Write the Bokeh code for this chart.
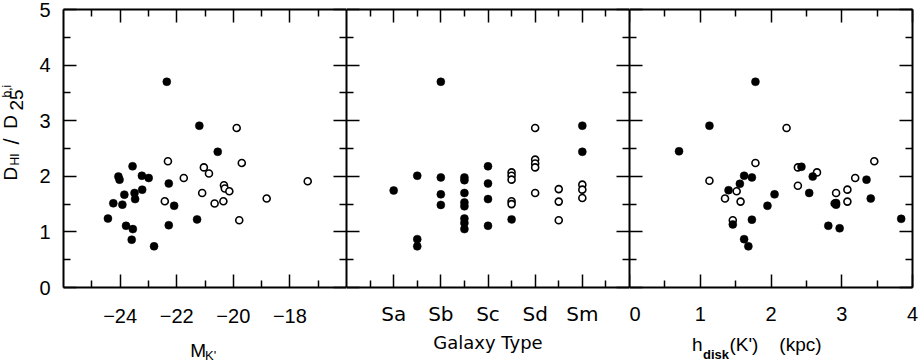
from math import pi
from bokeh.plotting import figure
from bokeh.layouts import row, column
from bokeh.models import LinearAxis, FixedTicker, Label, CustomLabelingPolicy, Spacer
from bokeh.embed import file_html
from bokeh.resources import INLINE

# ---------------- data ----------------
# Panel 1: absolute K' magnitude vs D_HI / D_25
mk_filled = [-22.35, -21.20, -20.55, -23.56, -24.06, -24.02, -23.23, -22.99, -22.28,
             -23.22, -23.49, -23.85, -23.47, -24.24, -23.92, -22.09, -21.28, -24.43,
             -23.79, -23.55, -22.28, -23.59, -22.80]
ratio_mk_filled = [3.70, 2.91, 2.44, 2.18, 1.995, 1.94, 2.01, 1.97, 1.87,
                   1.76, 1.70, 1.67, 1.59, 1.515, 1.49, 1.47, 1.225, 1.24,
                   1.11, 1.05, 1.12, 0.86, 0.74]
mk_open = [-19.88, -22.31, -19.70, -21.04, -20.86, -21.75, -17.37, -20.33,
           -20.30, -20.14, -21.10, -18.82, -22.42, -20.35, -20.66, -19.79]
ratio_mk_open = [2.87, 2.27, 2.24, 2.16, 2.05, 1.97, 1.91, 1.84,
                 1.78, 1.73, 1.70, 1.60, 1.55, 1.55, 1.51, 1.21]

# Panel 2: galaxy type (numeric T) vs D_HI / D_25
type_label_codes = [1, 3, 5, 7, 9]
type_labels = ["Sa", "Sb", "Sc", "Sd", "Sm"]
type_minor_codes = [0, 2, 4, 6, 8, 10]
type_filled = [1, 2, 2, 2, 3, 3, 3, 3, 4, 4, 4, 4, 4, 4, 4, 4, 5, 5, 5, 5, 6, 9, 9]
ratio_type_filled = [1.745, 2.01, 0.87, 0.74, 3.70, 1.98, 1.675, 1.485,
                     1.98, 1.93, 1.70, 1.53, 1.46, 1.24, 1.16, 1.05,
                     2.18, 1.87, 1.59, 1.11, 1.225, 2.91, 2.44]
type_open = [6, 6, 6, 6, 6, 7, 7, 7, 7, 7, 8, 8, 8, 9, 9, 9]
ratio_type_open = [2.07, 2.01, 1.94, 1.55, 1.50, 2.87, 2.30, 2.23, 2.16, 1.70,
                   1.77, 1.545, 1.21, 1.85, 1.76, 1.61]

# Panel 3: disk scale length (kpc) vs D_HI / D_25
hd_filled = [1.78, 1.13, 0.70, 2.43, 1.62, 1.73, 2.59, 3.35, 1.56, 1.40, 2.05, 2.54,
             2.92, 2.92, 3.41, 1.95, 1.73, 1.46, 2.81, 2.97, 3.84, 1.62, 1.68]
ratio_hd_filled = [3.70, 2.91, 2.45, 2.17, 2.01, 1.98, 1.995, 1.94, 1.865, 1.75, 1.675, 1.70,
                   1.52, 1.49, 1.60, 1.47, 1.22, 1.135, 1.11, 1.065, 1.235, 0.87, 0.74]
hd_open = [2.22, 1.78, 2.38, 2.65, 1.13, 3.19, 3.46, 1.515, 1.35, 1.57, 2.38, 2.92,
           3.08, 3.08, 2.90, 1.46]
ratio_hd_open = [2.87, 2.24, 2.16, 2.07, 1.92, 1.97, 2.27, 1.73, 1.60, 1.545, 1.83, 1.70,
                 1.76, 1.545, 1.51, 1.21]

# ticks
y_ticks = [0, 1, 2, 3, 4, 5]
y_minor = [0.5, 1.5, 2.5, 3.5, 4.5]
mk_ticks = [-24, -22, -20, -18]
mk_minor = [-25, -23, -21, -19, -17]
hd_ticks = [0, 1, 2, 3, 4]
hd_minor = [0.5, 1.5, 2.5, 3.5]

# ---------------- layout constants ----------------
FW, FH = 283, 278
TOP, BOTTOM = 9, 44          # borders of the panels (bottom holds tick labels)
YT_W = 30                    # strip that carries the y title
LEFT = 33                    # left border of panel 1 (y tick labels)
RIGHT = 7
XT_H = 361 - (TOP + FH + BOTTOM)   # strip under the panels for the x titles
NUM_FONT = "Liberation Sans"
TYPE_FONT = "DejaVu Sans"
NUM_SIZE = "20px"

NO_LABELS = CustomLabelingPolicy(code="for (const i of indices) indices.unset(i); return indices")


def bare_figure(width, height, x_range, y_range, **kw):
    p = figure(width=width, height=height, x_range=x_range, y_range=y_range,
               output_backend="svg", toolbar_location=None,
               x_axis_location=None, y_axis_location=None, **kw)
    p.grid.visible = False
    p.outline_line_color = None
    p.background_fill_color = "white"
    p.border_fill_color = "white"
    return p


def make_panel(x_range, left, right):
    return bare_figure(FW + left + right, FH + TOP + BOTTOM, x_range, (0, 5),
                       min_border_left=left, min_border_right=right,
                       min_border_top=TOP, min_border_bottom=BOTTOM)


def make_strip(width, height, x_range, y_range, top=0, bottom=0):
    return bare_figure(width, height, x_range, y_range,
                       min_border_left=0, min_border_right=0,
                       min_border_top=top, min_border_bottom=bottom)


def add_axis(p, side, ticks, minor, labels=False, font=NUM_FONT, size=NUM_SIZE,
             standoff=0, overrides=None, tick_major=13, tick_minor=7):
    ax = LinearAxis(ticker=FixedTicker(ticks=ticks, minor_ticks=minor))
    ax.axis_line_color = "black"
    ax.axis_line_width = 2
    ax.major_tick_in = tick_major
    ax.major_tick_out = 0
    ax.minor_tick_in = tick_minor
    ax.minor_tick_out = 0
    ax.major_tick_line_width = 1.5
    ax.minor_tick_line_width = 1.5
    ax.major_tick_line_color = "black"
    ax.minor_tick_line_color = "black"
    if labels:
        ax.major_label_text_font = font
        ax.major_label_text_font_size = size
        ax.major_label_text_color = "black"
        ax.major_label_standoff = standoff
        if overrides:
            ax.major_label_overrides = overrides
    else:
        ax.major_label_text_font_size = "0px"
        ax.major_label_standoff = 0
        ax.major_label_policy = NO_LABELS
    p.add_layout(ax, side)
    return ax


def add_text(p, text, x, y, size, font=NUM_FONT, angle=0.0, align="left",
             style="normal"):
    # (x, y) is the middle of the text box along its vertical direction
    p.add_layout(Label(x=x, y=y, x_units="data", y_units="data", text=text,
                       angle=angle, angle_units="rad", text_font=font,
                       text_font_size=size, text_font_style=style,
                       text_align=align, text_baseline="middle",
                       text_color="black"))


def draw_points(p, xo, yo, xf, yf):
    p.scatter(xo, yo, marker="circle", size=7, fill_color="white",
              line_color="black", line_width=1.6)
    p.scatter(xf, yf, marker="circle", size=8, fill_color="black",
              line_color="black", line_width=0.5)


# ---------------- y title strip: D_HI / D_25^{b,i} ----------------
yt = make_strip(YT_W, FH + TOP + BOTTOM, (0, YT_W), (0, 5), top=TOP, bottom=BOTTOM)
add_text(yt, "D", 10.1, 1.924, "19px", angle=pi / 2)
add_text(yt, "HI", 14.4, 2.194, "12px", angle=pi / 2)
add_text(yt, "/", 10.6, 2.628, "22px", angle=pi / 2, align="center")
add_text(yt, "D", 10.1, 2.854, "19px", angle=pi / 2)
add_text(yt, "25", 15.6, 3.183, "19px", angle=pi / 2)
add_text(yt, "b,i", 6.3, 3.417, "12px", angle=pi / 2)

# ---------------- panel 1 ----------------
p1 = make_panel((-26, -16), LEFT, 0)
add_axis(p1, "below", mk_ticks, mk_minor, labels=True, standoff=21)
add_axis(p1, "above", mk_ticks, mk_minor)
add_axis(p1, "left", y_ticks, y_minor, labels=True, standoff=13)
add_axis(p1, "right", y_ticks, y_minor)
draw_points(p1, mk_open, ratio_mk_open, mk_filled, ratio_mk_filled)

xt1 = make_strip(FW, XT_H, (-26, -16), (0, XT_H))
add_text(xt1, "M", -21.52, 10.9, "19px")
add_text(xt1, "K'", -21.0, 6.5, "13px")

# ---------------- panel 2 ----------------
p2 = make_panel((-1, 11), 0, 0)
add_axis(p2, "below", type_label_codes, type_minor_codes, labels=True,
         font=TYPE_FONT, size="20px", standoff=14,
         overrides={c: t for c, t in zip(type_label_codes, type_labels)})
add_axis(p2, "above", type_label_codes, type_minor_codes)
add_axis(p2, "left", y_ticks, y_minor)
add_axis(p2, "right", y_ticks, y_minor)
draw_points(p2, type_open, ratio_type_open, type_filled, ratio_type_filled)

xt2 = make_strip(FW, XT_H, (-1, 11), (0, XT_H))
add_text(xt2, "Galaxy Type", 5, 19.2, "18px", font=TYPE_FONT, align="center")

# ---------------- panel 3 ----------------
p3 = make_panel((0, 4), 0, RIGHT)
add_axis(p3, "below", hd_ticks, hd_minor, labels=True, standoff=19)
add_axis(p3, "above", hd_ticks, hd_minor)
add_axis(p3, "left", y_ticks, y_minor)
add_axis(p3, "right", y_ticks, y_minor)
draw_points(p3, hd_open, ratio_hd_open, hd_filled, ratio_hd_filled)

xt3 = make_strip(FW, XT_H, (0, 4), (0, XT_H))
add_text(xt3, "h", 0.885, 16.9, "19px")
add_text(xt3, "disk", 1.038, 7.5, "13px", style="bold")
add_text(xt3, "(K')", 1.412, 16.9, "19px")
add_text(xt3, "(kpc)", 2.118, 16.9, "19px")

layout = column(
    row(yt, p1, p2, p3),
    row(Spacer(width=YT_W + LEFT, height=XT_H), xt1, xt2, xt3),
)
open("out.html", "w").write(file_html(layout, INLINE))
